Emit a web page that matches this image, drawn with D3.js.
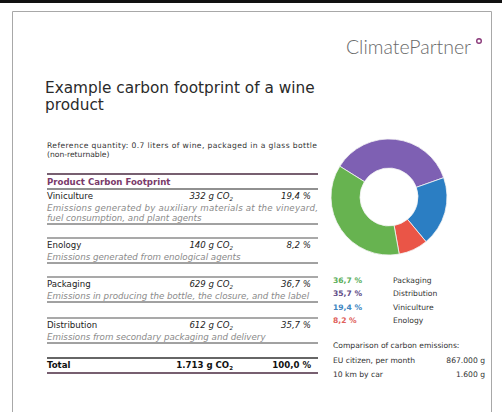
<!DOCTYPE html>
<html>
<head>
<meta charset="utf-8">
<script src="https://cdn.jsdelivr.net/npm/d3@7"></script>
<style>
  body { margin: 0; background: #fff; }
  svg text { font-family: "DejaVu Sans", Verdana, sans-serif; }
</style>
</head>
<body>
<svg id="sheet" width="502" height="412"></svg>
<script>
// Data
var categories   = ["Viniculture", "Enology", "Packaging", "Distribution"];
var grams        = ["332", "140", "629", "612"];
var percents     = [19.4, 8.2, 36.7, 35.7];
var descriptions = [
    ["Emissions generated by auxiliary materials at the vineyard,", "fuel consumption, and plant agents"],
    ["Emissions generated from enological agents"],
    ["Emissions in producing the bottle, the closure, and the label"],
    ["Emissions from secondary packaging and delivery"]
];
// donut order (clockwise from upper left) and legend order
var donutOrder   = ["Distribution", "Viniculture", "Enology", "Packaging"];
var legendOrder  = ["Packaging", "Distribution", "Viniculture", "Enology"];
var compareLabels = ["EU citizen, per month", "10 km by car"];
var compareValues = ["867.000 g", "1.600 g"];

var colors = d3.scaleOrdinal()
    .domain(["Distribution", "Viniculture", "Enology", "Packaging"])
    .range(["#7e60b3", "#2b7ec3", "#ea5547", "#67b350"]);
var legendColors = d3.scaleOrdinal()
    .domain(["Distribution", "Viniculture", "Enology", "Packaging"])
    .range(["#5e4a86", "#3d86bf", "#e0605a", "#5aae5a"]);

var fmt = function(v){ return v.toFixed(1).replace(".", ","); };

var svg = d3.select("#sheet");

// scan page
svg.append("rect").attr("x", 0).attr("y", 0).attr("width", 502).attr("height", 3).attr("fill", "#111");
svg.append("path")
   .attr("d", "M12.5,412 L12.5,11.5 L491.5,11.5 L491.5,412")
   .attr("fill", "none").attr("stroke", "#a8a8a8").attr("stroke-width", 1);

// logo
svg.append("text").attr("x", 471).attr("y", 54).attr("text-anchor", "end")
   .style("font-family", "Lato, 'Open Sans', sans-serif").style("font-weight", 300)
   .attr("font-size", 19.5).attr("fill", "#6a6a6a").text("ClimatePartner");
svg.append("circle").attr("cx", 479).attr("cy", 41).attr("r", 2.3)
   .attr("fill", "none").attr("stroke", "#8a3a7a").attr("stroke-width", 1.4);

// title
svg.append("text").attr("x", 45).attr("y", 93).attr("font-size", 15.3).attr("fill", "#2a2a2a")
   .text("Example carbon footprint of a wine");
svg.append("text").attr("x", 45).attr("y", 110).attr("font-size", 15.3).attr("fill", "#2a2a2a")
   .text("product");

svg.append("text").attr("x", 47).attr("y", 148).attr("font-size", 7.6).attr("fill", "#333")
   .attr("textLength", 270).text("Reference quantity: 0.7 liters of wine, packaged in a glass bottle");
svg.append("text").attr("x", 47).attr("y", 157).attr("font-size", 7.6).attr("fill", "#333")
   .text("(non-returnable)");

// table
var xL = 47, xR = 318, xG = 233, xP = 311;
var line = function(y, color, w){
    svg.append("line").attr("x1", xL).attr("x2", xR).attr("y1", y).attr("y2", y)
       .attr("stroke", color).attr("stroke-width", w);
};
line(174, "#4a2a40", 1.6);
svg.append("text").attr("x", xL).attr("y", 185).attr("font-size", 8.6).attr("font-weight", "bold")
   .attr("fill", "#7a3a6a").text("Product Carbon Footprint");
line(189, "#222", 1.2);

var rowTops = [189, 238, 277, 318];
categories.forEach(function(cat, i){
    var y0 = rowTops[i];
    if (i > 0) line(y0, "#555", 1.2);
    svg.append("text").attr("x", xL).attr("y", y0 + 10).attr("font-size", 8.6).attr("fill", "#222").text(cat);
    var g = svg.append("text").attr("x", xG).attr("y", y0 + 10).attr("text-anchor", "end")
       .attr("font-size", 8.6).attr("font-style", "italic").attr("fill", "#222");
    g.append("tspan").text(grams[i] + " g CO");
    g.append("tspan").attr("font-size", 5.5).attr("dy", 2).text("2");
    svg.append("text").attr("x", xP).attr("y", y0 + 10).attr("text-anchor", "end")
       .attr("font-size", 8.6).attr("font-style", "italic").attr("fill", "#222").text(fmt(percents[i]) + " %");
    descriptions[i].forEach(function(d, j){
        var t = svg.append("text").attr("x", xL).attr("y", y0 + 22 + j * 10).attr("font-size", 8.7)
           .attr("font-style", "italic").attr("fill", "#8a8a8a").text(d);
        if (j < descriptions[i].length - 1) t.attr("textLength", xR - xL).attr("lengthAdjust", "spacing");
    });
    line(y0 + 25 + (descriptions[i].length - 1) * 10, "#444", 1);
});

line(358, "#333", 1.4);
svg.append("text").attr("x", xL).attr("y", 368).attr("font-size", 8.6).attr("font-weight", "bold").attr("fill", "#111").text("Total");
var total = d3.sum(grams, function(g){ return +g; });
var tg = svg.append("text").attr("x", xG).attr("y", 368).attr("text-anchor", "end")
   .attr("font-size", 8.6).attr("font-weight", "bold").attr("fill", "#111");
tg.append("tspan").text(d3.format(",")(total).replace(",", ".") + " g CO");
tg.append("tspan").attr("font-size", 5.5).attr("dy", 2).text("2");
svg.append("text").attr("x", xP).attr("y", 368).attr("text-anchor", "end")
   .attr("font-size", 8.6).attr("font-weight", "bold").attr("fill", "#111")
   .text(fmt(d3.sum(percents)) + " %");
line(373, "#4a2a40", 1.6);

// donut
var pctOf = function(c){ return percents[categories.indexOf(c)]; };
var start = -58 * Math.PI / 180;
var pie = d3.pie().sort(null).value(function(c){ return pctOf(c); })
    .startAngle(start).endAngle(start + 2 * Math.PI);
var arc = d3.arc().innerRadius(29).outerRadius(58);
svg.append("g").attr("transform", "translate(389,197)")
   .selectAll("path").data(pie(donutOrder)).enter().append("path")
   .attr("d", arc).attr("fill", function(d){ return colors(d.data); })
   .attr("stroke", "#f4f4f4").attr("stroke-width", 0.8);

// legend
var ly = d3.scalePoint().domain(legendOrder).range([283, 323]);
legendOrder.forEach(function(c){
    svg.append("text").attr("x", 333).attr("y", ly(c)).attr("font-size", 7.6).attr("font-weight", "bold")
       .attr("fill", legendColors(c)).text(fmt(pctOf(c)) + " %");
    svg.append("text").attr("x", 393).attr("y", ly(c)).attr("font-size", 7.6).attr("fill", "#333").text(c);
});

svg.append("text").attr("x", 333).attr("y", 348).attr("font-size", 7.6).attr("fill", "#333")
   .text("Comparison of carbon emissions:");
compareLabels.forEach(function(l, i){
    svg.append("text").attr("x", 333).attr("y", 363 + i * 14).attr("font-size", 7.6).attr("fill", "#333").text(l);
    svg.append("text").attr("x", 485).attr("y", 363 + i * 14).attr("text-anchor", "end")
       .attr("font-size", 7.6).attr("fill", "#333").text(compareValues[i]);
});
</script>
</body>
</html>
